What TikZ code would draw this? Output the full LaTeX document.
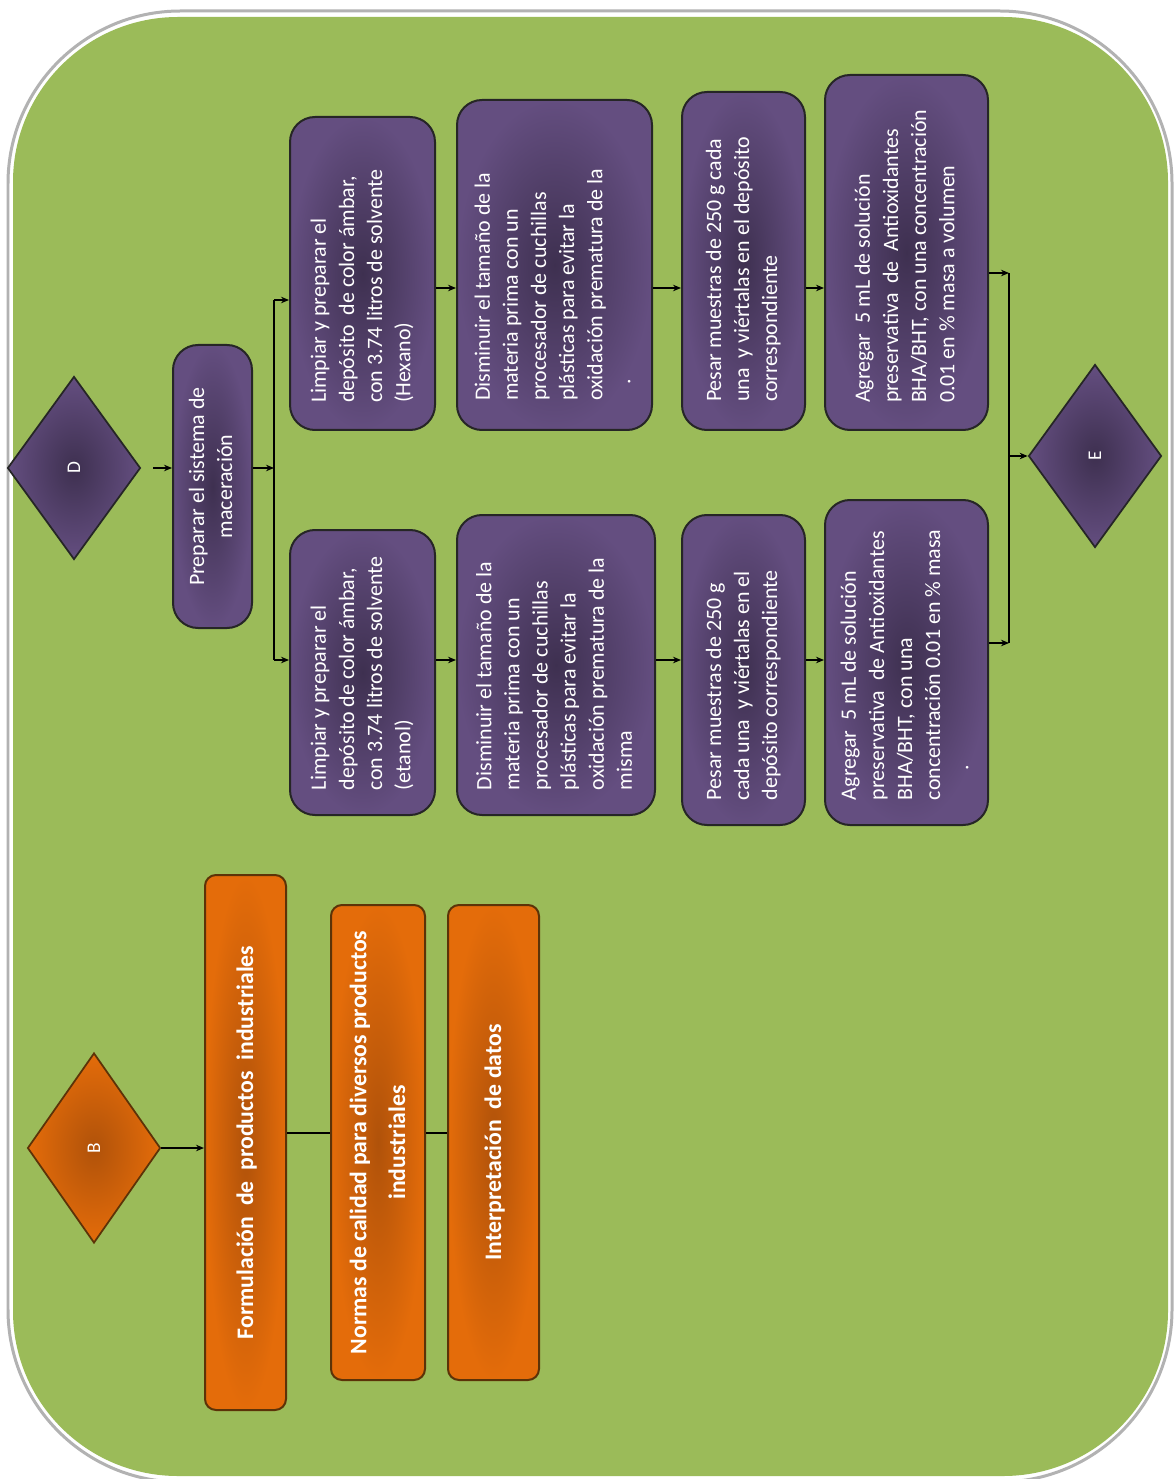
\documentclass[tikz,border=0pt]{standalone}
\usepackage{fontspec}
\setmainfont{Carlito}
\usetikzlibrary{shapes.geometric,arrows.meta}
\definecolor{bggreen}{HTML}{9BBB59}
\definecolor{purL}{HTML}{644E80}
\definecolor{purD}{HTML}{3E3050}
\definecolor{orL}{HTML}{E46C0A}
\definecolor{orD}{HTML}{B0520A}
\definecolor{edgeP}{HTML}{262626}
\definecolor{edgeO}{HTML}{5C3308}
\newlength\txtw
% purple box: name, x1, y1, x2, y2, pad, lines
\newcommand\pbox[7]{%
  \pgfmathsetlength{\txtw}{(#5-#3-2*#6)*0.02cm}%
  \node[pbx, minimum width={(#4-#2)*0.02cm}, minimum height={(#5-#3)*0.02cm}]
    (#1) at ({(#2+#4)/2},{(#3+#5)/2})
    {\rotatebox{90}{\makebox[\txtw][l]{\begin{tabular}{@{}l@{}}#7\end{tabular}}}};}
% centered box: style, name, x1, y1, x2, y2, lines
\newcommand\cbox[7]{%
  \node[#1, minimum width={(#5-#3)*0.02cm}, minimum height={(#6-#4)*0.02cm}]
    (#2) at ({(#3+#5)/2},{(#4+#6)/2})
    {\rotatebox{90}{\begin{tabular}{@{}c@{}}#7\end{tabular}}};}
\begin{document}
\begin{tikzpicture}[x=0.02cm,y=-0.02cm,
  pbx/.style={draw=edgeP, line width=0.04cm, rounded corners=0.5cm,
    inner color=purD, outer color=purL, inner sep=0pt, text=white,
    font=\fontsize{12.5}{16}\selectfont},
  obx/.style={draw=edgeO, line width=0.04cm, rounded corners=0.22cm,
    inner color=orD, outer color=orL, inner sep=0pt, text=white,
    font=\fontsize{13.5}{22}\selectfont\bfseries},
  pdia/.style={diamond, draw=edgeP, line width=0.035cm, inner color=purD, outer color=purL,
    inner sep=0pt, minimum width=2.66cm, minimum height=3.66cm, text=white,
    font=\fontsize{11}{13}\selectfont},
  odia/.style={diamond, draw=edgeO, line width=0.035cm, inner color=orD, outer color=orL,
    inner sep=0pt, minimum width=2.66cm, minimum height=3.8cm, text=white,
    font=\fontsize{11}{13}\selectfont},
  arr/.style={draw=black, line width=0.03cm, -{Stealth[length=0.16cm,width=0.13cm]}},
  ln/.style={draw=black, line width=0.03cm}]
\path[use as bounding box] (0,0) rectangle (1173,1479);
\fill[white] (0,0) rectangle (1173,1479);
\draw[black!30, line width=0.06cm, rounded corners=3.45cm] (8,11) rectangle (1172,1482);
\fill[bggreen, rounded corners=3.3cm] (13,17) rectangle (1168,1476);

% diamonds
\node[pdia] (D) at (74,468) {\rotatebox{90}{D}};
\node[pdia] (E) at (1095,456) {\rotatebox{90}{E}};
\node[odia] (B) at (94,1148) {\rotatebox{90}{B}};

% purple boxes
\cbox{pbx}{prep}{173}{345}{252}{628}{Preparar el sistema de\\ maceración}
\pbox{b1a}{290}{117}{435}{430}{27}{Limpiar y preparar el\\ depósito\ \ de color ámbar,\\ con 3.74 litros de solvente\\ (Hexano)}
\pbox{b2a}{457}{100}{652}{430}{29}{Disminuir el tamaño de la\\ materia prima con un\\ procesador de cuchillas\\ plásticas para evitar la\\ oxidación prematura de la\\ \hspace{0.34cm}.}
\pbox{b3a}{682}{92}{805}{430}{28}{Pesar muestras de 250 g cada\\ una\ \ y viértalas en el depósito\\ correspondiente}
\pbox{b4a}{825}{75}{988}{430}{27}{Agregar\ \ 5 mL de solución\\ preservativa\ \ de\ \ Antioxidantes\\ BHA/BHT, con una concentración\\ 0.01 en \% masa a volumen}
\pbox{b1b}{290}{530}{435}{815}{25}{Limpiar y preparar el\\ depósito de color ámbar,\\ con 3.74 litros de solvente\\ (etanol)}
\pbox{b2b}{457}{515}{655}{815}{25}{Disminuir el tamaño de la\\ materia prima con un\\ procesador de cuchillas\\ plásticas para evitar la\\ oxidación prematura de la\\ misma}
\pbox{b3b}{682}{515}{805}{825}{25}{Pesar muestras de 250 g\\ cada una\ \ y viértalas en el\\ depósito correspondiente}
\pbox{b4b}{825}{500}{988}{825}{25}{Agregar\ \ 5 mL de solución\\ preservativa\ \ de Antioxidantes\\ BHA/BHT, con una\\ concentración 0.01 en \% masa\\ \hspace{0.6cm}.}

% orange boxes
\cbox{obx}{o1}{205}{875}{286}{1410}{Formulación\ \ de\ \ productos\ \ industriales}
\cbox{obx}{o2}{331}{905}{425}{1380}{Normas de calidad para diversos productos\\ industriales}
\cbox{obx}{o3}{448}{905}{539}{1380}{Interpretación\ \ de datos}

% level coordinates
\coordinate (ya) at (0,288);
\coordinate (yain) at (0,300);
\coordinate (yaout) at (0,273);
\coordinate (yb) at (0,660);
\coordinate (ybout) at (0,643);
\coordinate (xs) at (274,0);
\coordinate (xm) at (1009,0);
\coordinate (yo) at (0,1133);

% purple connectors
\draw[arr] ([xshift=0.24cm]D.east) -- (prep.west |- D.east);
\draw[arr] (prep.east |- D.east) -- (xs |- D.east);
\draw[ln] (xs |- yain) -- (xs |- yb);
\draw[arr] (xs |- yain) -- (b1a.west |- yain);
\draw[arr] (xs |- yb) -- (b1b.west |- yb);
\draw[arr] (b1a.east |- ya) -- (b2a.west |- ya);
\draw[arr] (b2a.east |- ya) -- (b3a.west |- ya);
\draw[arr] (b3a.east |- ya) -- (b4a.west |- ya);
\draw[arr] (b1b.east |- yb) -- (b2b.west |- yb);
\draw[arr] (b2b.east |- yb) -- (b3b.west |- yb);
\draw[arr] (b3b.east |- yb) -- (b4b.west |- yb);
\draw[arr] (b4a.east |- yaout) -- (xm |- yaout);
\draw[arr] (b4b.east |- ybout) -- (xm |- ybout);
\draw[ln] (xm |- yaout) -- (xm |- ybout);
\draw[arr] (xm |- E.west) -- (E.west);

% orange connectors
\draw[arr] (B.east) -- (o1.west |- B.east);
\draw[ln] (o1.east |- yo) -- (o2.west |- yo);
\draw[ln] (o2.east |- yo) -- (o3.west |- yo);
\end{tikzpicture}
\end{document}
